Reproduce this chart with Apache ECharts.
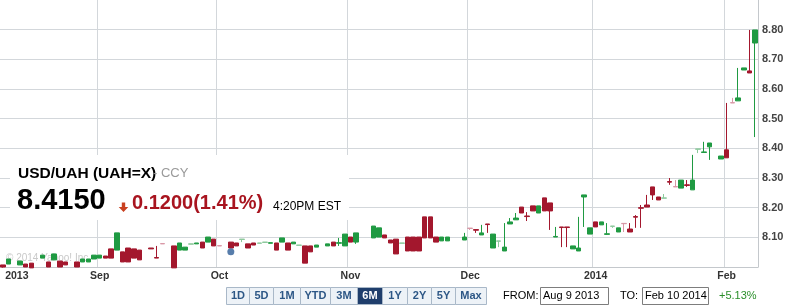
<!DOCTYPE html>
<html><head><meta charset="utf-8">
<script src="https://cdn.jsdelivr.net/npm/echarts@6/dist/echarts.min.js"></script>
<style>html,body{margin:0;padding:0;background:#fff}#c{width:793px;height:307px}</style>
</head><body><div id="c"></div>
<script>
// ---------- data ----------
const axisStart = [2013, 7, 8];   // Aug 8 2013 (weekday trading calendar)
const axisEnd = [2014, 1, 10];    // Feb 10 2014

const candleDates = [
 '2013-08-08','2013-08-09','2013-08-13','2013-08-14','2013-08-15','2013-08-19','2013-08-20','2013-08-21','2013-08-22','2013-08-23',
 '2013-08-27','2013-08-28','2013-08-29','2013-08-30','2013-09-02','2013-09-03','2013-09-04','2013-09-05','2013-09-06','2013-09-09',
 '2013-09-10','2013-09-11','2013-09-13','2013-09-16','2013-09-17','2013-09-19','2013-09-20','2013-09-23','2013-09-24','2013-09-25',
 '2013-09-26','2013-09-27','2013-09-30','2013-10-01','2013-10-03','2013-10-04','2013-10-07','2013-10-08','2013-10-09','2013-10-10',
 '2013-10-11','2013-10-14','2013-10-15','2013-10-16','2013-10-17','2013-10-18','2013-10-21','2013-10-22','2013-10-23','2013-10-24',
 '2013-10-28','2013-10-29','2013-10-30','2013-10-31','2013-11-01','2013-11-04','2013-11-07','2013-11-08','2013-11-11','2013-11-12',
 '2013-11-13','2013-11-14','2013-11-15','2013-11-18','2013-11-19','2013-11-20','2013-11-21','2013-11-22','2013-11-25','2013-11-26',
 '2013-11-29','2013-12-02','2013-12-03','2013-12-04','2013-12-05','2013-12-06','2013-12-09','2013-12-10','2013-12-11','2013-12-12',
 '2013-12-13','2013-12-16','2013-12-17','2013-12-18','2013-12-19','2013-12-20','2013-12-23','2013-12-24','2013-12-25','2013-12-26',
 '2013-12-27','2013-12-30','2013-12-31','2014-01-01','2014-01-02','2014-01-03','2014-01-06','2014-01-07','2014-01-08','2014-01-09',
 '2014-01-10','2014-01-13','2014-01-14','2014-01-15','2014-01-16','2014-01-17','2014-01-20','2014-01-21','2014-01-22','2014-01-23',
 '2014-01-24','2014-01-27','2014-01-28','2014-01-29','2014-01-31','2014-02-03','2014-02-04','2014-02-05','2014-02-06','2014-02-07',
 '2014-02-10'
];
const opens = [
 8.007,8.010,8.007,8.010,8.013,8.030,8.017,8.024,8.020,8.017,
 8.017,8.017,8.017,8.027,8.030,8.037,8.061,8.057,8.051,8.064,
 8.061,8.057,8.064,8.032,8.079,8.071,8.057,8.057,8.077,8.078,
 8.084,8.084,8.094,8.072,8.084,8.081,8.093,8.078,8.081,8.080,
 8.083,8.080,8.081,8.084,8.081,8.078,8.073,8.071,8.071,8.067,
 8.071,8.084,8.080,8.071,8.101,8.084,8.098,8.101,8.108,8.091,
 8.094,8.080,8.101,8.101,8.101,8.169,8.169,8.101,8.088,8.088,
 8.091,8.131,8.126,8.108,8.145,8.064,8.087,8.054,8.145,8.159,
 8.202,8.172,8.206,8.182,8.233,8.216,8.101,8.135,8.135,8.061,
 8.054,8.236,8.111,8.152,8.142,8.110,8.137,8.118,8.147,8.128,
 8.170,8.200,8.209,8.270,8.236,8.232,8.288,8.271,8.266,8.277,
 8.260,8.397,8.386,8.405,8.364,8.395,8.554,8.560,8.664,8.661,
 8.755
];
const closes = [
 8.000,8.027,8.020,8.000,7.997,8.040,8.000,8.044,8.000,8.007,
 8.000,8.027,8.027,8.040,8.040,8.030,8.030,8.115,8.017,8.017,
 8.030,8.024,8.061,8.030,8.078,7.997,8.081,8.067,8.078,8.081,
 8.064,8.101,8.071,8.071,8.064,8.071,8.094,8.064,8.074,8.081,
 8.084,8.082,8.057,8.098,8.057,8.084,8.074,8.013,8.051,8.074,
 8.078,8.071,8.082,8.111,8.084,8.115,8.138,8.132,8.098,8.081,
 8.044,8.081,8.054,8.054,8.054,8.098,8.098,8.084,8.101,8.101,
 8.101,8.130,8.124,8.115,8.143,8.111,8.088,8.067,8.152,8.165,
 8.182,8.170,8.189,8.206,8.189,8.189,8.103,8.133,8.133,8.071,
 8.064,8.243,8.132,8.135,8.152,8.112,8.138,8.132,8.146,8.118,
 8.168,8.198,8.202,8.243,8.226,8.233,8.286,8.270,8.293,8.275,
 8.293,8.398,8.388,8.418,8.374,8.368,8.553,8.570,8.671,8.654,
 8.799
];
const lows = [
 7.998,8.010,8.007,8.000,7.997,8.030,8.000,8.024,8.000,8.007,
 8.000,8.017,8.017,8.027,8.030,8.030,8.030,8.057,8.017,8.017,
 8.030,8.024,8.061,8.030,8.078,7.997,8.057,8.057,8.077,8.078,
 8.064,8.084,8.071,8.071,8.064,8.071,8.084,8.064,8.074,8.080,
 8.081,8.080,8.057,8.084,8.057,8.078,8.073,8.013,8.051,8.067,
 8.071,8.071,8.071,8.071,8.084,8.078,8.098,8.101,8.098,8.081,
 8.044,8.080,8.054,8.054,8.054,8.098,8.098,8.084,8.088,8.088,
 8.091,8.125,8.115,8.108,8.115,8.064,8.067,8.054,8.145,8.159,
 8.182,8.155,8.189,8.182,8.189,8.125,8.101,8.067,8.067,8.061,
 8.054,8.135,8.111,8.135,8.142,8.108,8.132,8.118,8.118,8.118,
 8.132,8.132,8.202,8.226,8.226,8.232,8.277,8.270,8.266,8.270,
 8.260,8.384,8.386,8.361,8.364,8.368,8.553,8.560,8.664,8.654,
 8.438
];
const highs = [
 8.007,8.027,8.020,8.010,8.013,8.040,8.017,8.044,8.020,8.017,
 8.017,8.027,8.027,8.040,8.040,8.037,8.061,8.115,8.051,8.064,
 8.061,8.057,8.064,8.071,8.079,8.071,8.081,8.067,8.078,8.081,
 8.084,8.101,8.094,8.072,8.084,8.081,8.094,8.078,8.081,8.081,
 8.084,8.082,8.081,8.098,8.081,8.084,8.074,8.071,8.071,8.074,
 8.078,8.084,8.098,8.111,8.101,8.115,8.138,8.132,8.108,8.091,
 8.094,8.081,8.101,8.101,8.101,8.169,8.169,8.101,8.101,8.101,
 8.115,8.131,8.126,8.142,8.145,8.111,8.088,8.148,8.165,8.182,
 8.202,8.185,8.206,8.206,8.233,8.216,8.135,8.135,8.135,8.071,
 8.169,8.243,8.132,8.152,8.152,8.148,8.138,8.132,8.147,8.148,
 8.175,8.209,8.243,8.270,8.236,8.246,8.300,8.293,8.293,8.293,
 8.378,8.398,8.422,8.418,8.374,8.553,8.570,8.671,8.671,8.799,
 8.799
];

const xTickDates = ['2013-08-08','2013-09-02','2013-10-01','2013-11-01','2013-12-02','2014-01-01','2014-02-03'];
const xTickLabels = ['2013','Sep','Oct','Nov','Dec','2014','Feb'];

const eventDates = ['2013-10-03'];
const eventValues = [8.051];

const yMin = 8.0, yMax = 8.9, yStep = 0.1;

const quoteTitle = 'USD/UAH (UAH=X)';
const quoteType = '- CCY';
const quotePrice = '8.4150';
const quoteChange = '0.1200(1.41%)';
const quoteTime = '4:20PM EST';
const watermark = '\u00a9 2014 Yahoo! Inc.';
const rangeButtons = ['1D','5D','1M','YTD','3M','6M','1Y','2Y','5Y','Max'];
const selectedRange = '6M';
const fromLabel = 'FROM:', fromDate = 'Aug 9 2013';
const toLabel = 'TO:', toDate = 'Feb 10 2014';
const periodChange = '+5.13%';

// ---------- build ----------
const axisDates = [];
for (let t = Date.UTC(...axisStart); t <= Date.UTC(...axisEnd); t += 86400000) {
  const d = new Date(t), w = d.getUTCDay();
  if (w > 0 && w < 6) axisDates.push(d.toISOString().slice(0, 10));
}

const GREEN = '#1f9a42', RED = '#a3172d', LGREEN = '#8cc99c', PINK = '#d898a6';
const FONT = '"Liberation Sans", Arial, sans-serif';

const candleData = candleDates.map((d, i) => {
  const o = opens[i], c = closes[i];
  const up = c >= o, faint = Math.abs(c - o) < 0.0015;
  const col = faint ? (up ? LGREEN : PINK) : (up ? GREEN : RED);
  return {
    value: [axisDates.indexOf(d), o, c, lows[i], highs[i]],
    itemStyle: { color: col, color0: col, borderColor: col, borderColor0: col }
  };
});
const eventData = eventDates.map((d, i) => [axisDates.indexOf(d), eventValues[i]]);

const txt = (x, y, text, font, fill, extra) => Object.assign({
  type: 'text', z: 101,
  style: { x, y, text, font, fill, align: 'left', verticalAlign: 'middle', textAlign: 'left', textVerticalAlign: 'middle' }
}, extra || {});

const graphics = [
  { type: 'rect', z: 100, shape: { x: 10, y: 155, width: 339, height: 65 }, style: { fill: '#fff' } },
  txt(18, 173.5, quoteTitle, 'bold 15.5px ' + FONT, '#000'),
  txt(153, 173.5, quoteType, '13px ' + FONT, '#9a9a9a'),
  txt(17, 200.5, quotePrice, 'bold 29px ' + FONT, '#000'),
  { type: 'polygon', z: 101, shape: { points: [[121.8,202.5],[125.2,202.5],[125.2,207],[128.3,207],[123.5,212],[118.7,207],[121.8,207]] }, style: { fill: '#c9401f' } },
  txt(132, 203.5, quoteChange, 'bold 20px ' + FONT, '#a8141f'),
  txt(273, 206.5, quoteTime, '12px ' + FONT, '#000'),
  Object.assign(txt(6, 258.5, watermark, '10px ' + FONT, '#c9c9c9'), { z: 1 })
];

const btnEdges = [226, 249, 273, 300, 330, 357, 382, 407, 431, 455, 486];
rangeButtons.forEach((b, i) => {
  const sel = b === selectedRange;
  const x0 = btnEdges[i], x1 = btnEdges[i + 1];
  graphics.push({ type: 'rect', z: 100, shape: { x: x0 + 0.5, y: 287.5, width: x1 - x0, height: 17 },
    style: { fill: sel ? '#1f3e6c' : '#edf2f7', stroke: '#a9b8c8', lineWidth: 1 } });
  graphics.push({ type: 'text', z: 101, style: { x: (x0 + x1) / 2 + 0.5, y: 296, text: b,
    font: 'bold 11px ' + FONT, fill: sel ? '#fff' : '#2d5786', align: 'center', verticalAlign: 'middle', textAlign: 'center', textVerticalAlign: 'middle' } });
});
graphics.push(txt(503, 296, fromLabel, '11px ' + FONT, '#000'));
graphics.push({ type: 'rect', z: 100, shape: { x: 540.5, y: 287.5, width: 68, height: 17 }, style: { fill: '#fff', stroke: '#7d7d7d', lineWidth: 1 } });
graphics.push(txt(543, 296, fromDate, '11px ' + FONT, '#000'));
graphics.push(txt(620, 296, toLabel, '11px ' + FONT, '#000'));
graphics.push({ type: 'rect', z: 100, shape: { x: 642.5, y: 287.5, width: 66, height: 17 }, style: { fill: '#fff', stroke: '#7d7d7d', lineWidth: 1 } });
graphics.push(txt(645, 296, toDate, '11px ' + FONT, '#000'));
graphics.push(txt(719, 296, periodChange, '11px ' + FONT, '#2a8f2a'));

const chart = echarts.init(document.getElementById('c'), null, { renderer: 'canvas' });
chart.setOption({
  animation: false,
  backgroundColor: '#fff',
  textStyle: { fontFamily: FONT },
  grid: { left: 0, right: 35, top: 0, bottom: 40, containLabel: false },
  xAxis: {
    type: 'category', data: axisDates, boundaryGap: true,
    axisLine: { show: true, lineStyle: { color: '#c4c8cc', width: 1 } },
    axisTick: { show: false },
    axisLabel: {
      interval: (i, v) => xTickDates.includes(v),
      formatter: (v) => {
        const k = xTickDates.indexOf(v);
        return k === 0 ? '{first|' + xTickLabels[k] + '}' : xTickLabels[k];
      },
      rich: { first: { padding: [0, 0, 0, 28], fontWeight: 'bold', fontSize: 10.5, color: '#333', fontFamily: FONT } },
      color: '#333', fontWeight: 'bold', fontSize: 10.5, fontFamily: FONT, margin: 4
    },
    splitLine: { show: true, interval: (i, v) => i > 0 && xTickDates.includes(v), lineStyle: { color: '#d3d7db', width: 1 } }
  },
  yAxis: {
    type: 'value', position: 'right', min: yMin, max: yMax, interval: yStep, scale: true,
    axisLine: { show: true, lineStyle: { color: '#c4c8cc', width: 1 } },
    axisTick: { show: false },
    axisLabel: { showMinLabel: false, showMaxLabel: false, formatter: (v) => v.toFixed(2),
      color: '#444', fontWeight: 'bold', fontSize: 11, fontFamily: FONT, margin: 4 },
    splitLine: { show: true, showMinLine: false, showMaxLine: false, lineStyle: { color: '#d3d7db', width: 1 } }
  },
  series: [
    { type: 'candlestick', data: candleData, dimensions: ['day', 'open', 'close', 'lowest', 'highest'],
      encode: { x: 0, y: [1, 2, 3, 4] }, barWidth: 5, itemStyle: { borderWidth: 1 }, z: 3 },
    { type: 'scatter', data: eventData, symbol: 'circle', symbolSize: 7, itemStyle: { color: '#2d5c96' }, z: 4 }
  ],
  graphic: { elements: graphics }
});
</script>
</body></html>
